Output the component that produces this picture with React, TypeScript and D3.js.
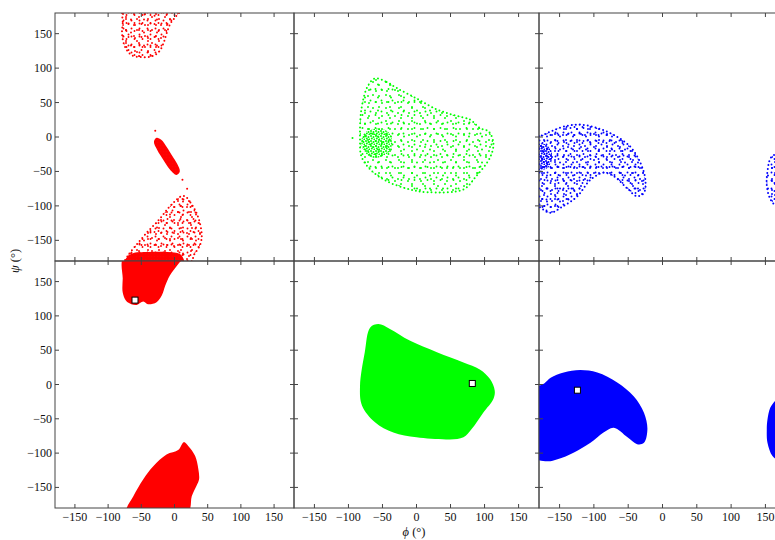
import React from 'react'
import * as d3 from 'd3'

type Pt = [number, number]

const tickValues = [-150, -100, -50, 0, 50, 100, 150]
const panelColors = ['#ff0000', '#00ff00', '#0000ff']

const redBetaCloud: Pt[] = [[-76, 186], [-78, 165], [-79, 150], [-75, 132], [-65, 119], [-50, 116], [-35, 117], [-24, 123], [-17, 135], [-12, 150], [-6, 165], [2, 175], [10, 186]]
const redHelixCloud: Pt[] = [[-27, -1], [-20, -4], [-12, -14], [-3, -28], [4, -39], [8, -50], [3, -55], [-7, -47], [-17, -33], [-26, -19], [-31, -7]]
const redLowerCloud: Pt[] = [[16, -86], [24, -95], [33, -110], [39, -128], [41, -145], [38, -158], [30, -170], [22, -186], [-76, -186], [-70, -172], [-56, -155], [-40, -137], [-25, -122], [-10, -104], [2, -92], [10, -86]]
const redLowerDense: Pt[] = [[-76, -186], [-72, -175], [-64, -169], [-40, -167], [-10, -167], [8, -170], [14, -178], [14, -186]]
const redStrayPoints: Pt[] = [[-29, 9], [12, -62], [19, -75], [-30, 176], [-45, 178]]

const greenCloud: Pt[] = [[-61, 85], [-44, 80], [-29, 71], [0, 56], [30, 40], [54, 32], [79, 25], [93, 13], [106, 8], [113, -9], [108, -30], [86, -59], [69, -76], [15, -80], [-10, -76], [-44, -64], [-68, -47], [-81, -28], [-83, -4], [-81, 40], [-72, 73]]
const greenCore: Pt[] = [[-78, 4], [-68, 11], [-54, 12], [-41, 7], [-36, -6], [-39, -20], [-50, -28], [-64, -30], [-76, -22], [-81, -10]]
const greenStrayPoints: Pt[] = [[-94, -1.5]]

const blueCloud: Pt[] = [[-186, -2], [-176, 2], [-163, 8], [-144, 15], [-120, 18], [-95, 13], [-71, 3], [-47, -14], [-32, -38], [-25, -62], [-27, -81], [-37, -86], [-52, -74], [-71, -57], [-86, -52], [-105, -62], [-124, -86], [-144, -100], [-163, -110], [-173, -106], [-186, -92]]
const blueCore: Pt[] = [[-186, -12], [-172, -10], [-163, -18], [-161, -32], [-166, -44], [-186, -48]]
const blueWrapCloud: Pt[] = [[186, -24], [168, -24], [158, -30], [153, -50], [152, -70], [157, -90], [166, -100], [186, -102]]

// bottom row: filled regions
const redUpperRegion: Pt[] = [[-76, 186], [-78, 154], [-78, 134], [-73, 122], [-65, 117], [-57, 116], [-47, 121], [-40, 117], [-27, 120], [-19, 130], [-14, 144], [-7, 159], [6, 176], [14, 186]]
const redLowerRegion: Pt[] = [[14, -84], [6, -95], [-12, -102], [-32, -119], [-47, -138], [-62, -163], [-72, -186], [20, -186], [26, -163], [33, -148], [37, -138], [36, -124], [31, -104], [21, -90]]
const greenRegion: Pt[] = [[-56, 88], [-39, 81], [-10, 64], [30, 47], [69, 32], [93, 22], [108, 8], [115, -9], [113, -21], [98, -41], [81, -65], [69, -77], [49, -80], [0, -77], [-34, -70], [-61, -55], [-80, -31], [-83, -2], [-76, 47], [-68, 83]]
const blueRegion: Pt[] = [[-186, -7], [-172, 2], [-163, 10], [-144, 17.5], [-120, 21], [-95, 17.5], [-66, 3], [-42, -17], [-27, -41], [-22, -65], [-27, -85], [-37, -87], [-51, -77], [-71, -63], [-86, -70], [-105, -85], [-129, -99], [-153, -109], [-168, -112], [-186, -106]]
const blueWrapRegion: Pt[] = [[186, -12], [172, -16], [164, -24], [157, -34], [153, -51], [152, -65], [153, -85], [160, -104], [168, -110], [186, -112]]

// white squares in the bottom row
const minima: Pt[] = [[-59.5, 123], [82, 1.5], [-124, -8.3]]

const clouds = [[redBetaCloud, redLowerCloud], [greenCloud], [blueCloud, blueWrapCloud]]
const cores = [[redHelixCloud, redLowerDense], [greenCore], [blueCore]]
const strays = [redStrayPoints, greenStrayPoints, []]
const regions = [[redUpperRegion, redLowerRegion], [greenRegion], [blueRegion, blueWrapRegion]]
const cloudLayers = [['sa', 'sb', 'sc'], ['sa', 'sb'], ['sa', 'sb', 'sc']]
const coreLayer = ['dn', 'dm', 'dm']

const W = 775
const H = 540
const colEdges = [55, 294, 539, 786]
const rowEdges = [13, 261, 508]
const fmt = d3.format('d')
const font = 'Liberation Serif, Times New Roman, serif'

const Panel = ({col, row}: {col: number, row: number}) => {
  const x = d3.scaleLinear().domain([-180, 180]).range([colEdges[col], colEdges[col + 1]])
  const y = d3.scaleLinear().domain([-180, 180]).range([rowEdges[row + 1], rowEdges[row]])
  const line = d3.line<Pt>().x(d => x(d[0])).y(d => y(d[1])).curve(d3.curveCatmullRomClosed.alpha(0.5))
  const color = panelColors[col]
  const id = `clip-${row}-${col}`
  const x0 = colEdges[col], x1 = colEdges[col + 1]
  const y0 = rowEdges[row], y1 = rowEdges[row + 1]

  return (
    <g>
      <clipPath id={id}><rect x={x0} y={y0} width={x1 - x0} height={y1 - y0}/></clipPath>
      <g clipPath={`url(#${id})`}>
        {row === 0 && clouds[col].map((c, i) =>
          <g key={'c' + i}>
            {cloudLayers[col].map(p => <path key={p} d={line(c) || ''} fill={`url(#${p}${col})`}/>)}
            <path d={line(c) || ''} fill="none" stroke={color} strokeWidth={2}
              strokeDasharray="0 4" strokeLinecap="round"/>
          </g>
        )}
        {row === 0 && cores[col].map((c, i) =>
          <path key={'d' + i} d={line(c) || ''} fill={`url(#${coreLayer[col]}${col})`}/>
        )}
        {row === 0 && strays[col].map((p, i) =>
          <circle key={'s' + i} cx={x(p[0])} cy={y(p[1])} r={1} fill={color}/>
        )}
        {row === 1 && regions[col].map((c, i) =>
          <path key={'r' + i} d={line(c) || ''} fill={color}/>
        )}
        {row === 1 &&
          <rect x={x(minima[col][0]) - 3} y={y(minima[col][1]) - 3} width={6} height={6}
            fill="white" stroke="black" strokeWidth={1}/>
        }
      </g>
      <rect x={x0} y={y0} width={x1 - x0} height={y1 - y0} fill="none" stroke="#444" strokeWidth={1}/>
      {tickValues.map(t =>
        <g key={t} stroke="#444" strokeWidth={1}>
          <line x1={x(t)} x2={x(t)} y1={y1} y2={y1 - 4}/>
          <line x1={x(t)} x2={x(t)} y1={y0} y2={y0 + 4}/>
          <line x1={x0} x2={x0 + 4} y1={y(t)} y2={y(t)}/>
          <line x1={x1} x2={x1 - 4} y1={y(t)} y2={y(t)}/>
        </g>
      )}
      {col === 0 && tickValues.map(t =>
        <text key={'yl' + t} x={x0 - 3} y={y(t) + 4} textAnchor="end" fontSize={12} fontFamily={font} fill="#111">{fmt(t)}</text>
      )}
      {row === 1 && tickValues.map(t =>
        <text key={'xl' + t} x={x(t)} y={y1 + 13} textAnchor="middle" fontSize={12} fontFamily={font} fill="#111">{fmt(t)}</text>
      )}
    </g>
  )
}

const dotTiles = [
  {key: 'sa', size: 11, r: 0.95, pts: [[2, 3], [7.5, 1.5], [5, 8]]},
  {key: 'sb', size: 13, r: 0.95, pts: [[1, 6.5], [9, 4], [11.5, 11], [5, 12]]},
  {key: 'sc', size: 8, r: 0.95, pts: [[3.5, 4.5], [6.5, 7]]},
  {key: 'dm', size: 5, r: 1, pts: [[1, 1], [3.5, 2], [1.8, 3.6], [4.4, 4.4]]},
  {key: 'dn', size: 3, r: 1.3, pts: [[0.8, 0.8], [2.3, 2.2], [2.3, 0.6], [0.7, 2.3]]},
]

const App = () => {
  return (
    <svg width={W} height={H} style={{position: 'absolute', left: 0, top: 0, background: 'white'}}>
      <defs>
        {panelColors.map((c, i) => dotTiles.map(t =>
          <pattern key={t.key + i} id={t.key + i} width={t.size} height={t.size} patternUnits="userSpaceOnUse">
            {t.pts.map((p, j) => <circle key={j} cx={p[0]} cy={p[1]} r={t.r} fill={c}/>)}
          </pattern>
        ))}
      </defs>
      {[0, 1].map(row => [0, 1, 2].map(col => <Panel key={row + '-' + col} row={row} col={col}/>))}
      <text transform="translate(19,261) rotate(-90)" textAnchor="middle" fontSize={12.5} fontFamily={font} fill="#111">
        <tspan fontStyle="italic">ψ</tspan> (°)
      </text>
      <text x={414} y={536} textAnchor="middle" fontSize={12.5} fontFamily={font} fill="#111">
        <tspan fontStyle="italic">ϕ</tspan> (°)
      </text>
    </svg>
  )
}

export default App
